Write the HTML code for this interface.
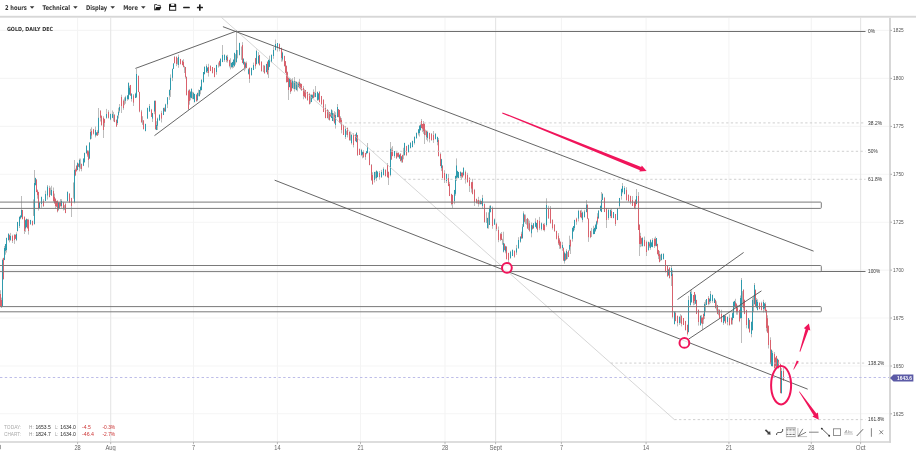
<!DOCTYPE html>
<html><head><meta charset="utf-8"><title>Gold chart</title>
<style>
html,body{margin:0;padding:0;background:#fff;width:916px;height:451px;overflow:hidden}
svg{position:absolute;left:0;top:0;display:block}
text{font-family:"Liberation Sans",Arial,sans-serif}
text.dv{font-family:"DejaVu Sans",sans-serif}
</style></head><body>
<svg width="916" height="451" viewBox="0 0 916 451">
<g stroke="#f4f4f4" stroke-width="1.1">
<line x1="0" y1="30.4" x2="889" y2="30.4" stroke="#f5f5f5"/>
<line x1="0" y1="78.4" x2="889" y2="78.4" stroke="#f5f5f5"/>
<line x1="0" y1="126.4" x2="889" y2="126.4" stroke="#f5f5f5"/>
<line x1="0" y1="174.3" x2="889" y2="174.3" stroke="#f5f5f5"/>
<line x1="0" y1="222.2" x2="889" y2="222.2" stroke="#f5f5f5"/>
<line x1="0" y1="270.1" x2="889" y2="270.1" stroke="#f5f5f5"/>
<line x1="0" y1="318.0" x2="889" y2="318.0" stroke="#f5f5f5"/>
<line x1="0" y1="366.0" x2="889" y2="366.0" stroke="#f5f5f5"/>
<line x1="0" y1="413.8" x2="889" y2="413.8" stroke="#f5f5f5"/>
<line x1="77.6" y1="17.7" x2="77.6" y2="442"/>
<line x1="110.7" y1="17.7" x2="110.7" y2="442" stroke="#e5e5e5"/>
<line x1="193.5" y1="17.7" x2="193.5" y2="442"/>
<line x1="277.4" y1="17.7" x2="277.4" y2="442"/>
<line x1="360.5" y1="17.7" x2="360.5" y2="442"/>
<line x1="445" y1="17.7" x2="445" y2="442"/>
<line x1="495.6" y1="17.7" x2="495.6" y2="442" stroke="#e5e5e5"/>
<line x1="561.4" y1="17.7" x2="561.4" y2="442"/>
<line x1="646.1" y1="17.7" x2="646.1" y2="442"/>
<line x1="728.9" y1="17.7" x2="728.9" y2="442"/>
<line x1="811.3" y1="17.7" x2="811.3" y2="442"/>
<line x1="860.6" y1="17.7" x2="860.6" y2="442" stroke="#e5e5e5"/>
</g>
<g stroke="#a0a0a0" stroke-width="0.7">
<line x1="0.5" y1="290.2" x2="0.5" y2="306.1"/>
<line x1="1.5" y1="297.6" x2="1.5" y2="308.0"/>
<line x1="2.5" y1="258.6" x2="2.5" y2="306.9"/>
<line x1="3.5" y1="257.7" x2="3.5" y2="279.4"/>
<line x1="4.5" y1="246.0" x2="4.5" y2="260.2"/>
<line x1="5.5" y1="243.9" x2="5.5" y2="254.7"/>
<line x1="6.5" y1="237.6" x2="6.5" y2="252.6"/>
<line x1="8.5" y1="233.0" x2="8.5" y2="240.7"/>
<line x1="9.5" y1="234.6" x2="9.5" y2="242.4"/>
<line x1="10.5" y1="232.9" x2="10.5" y2="240.9"/>
<line x1="12.5" y1="234.7" x2="12.5" y2="243.0"/>
<line x1="14.5" y1="234.0" x2="14.5" y2="243.9"/>
<line x1="15.5" y1="234.5" x2="15.5" y2="238.9"/>
<line x1="16.5" y1="232.3" x2="16.5" y2="241.1"/>
<line x1="17.5" y1="221.8" x2="17.5" y2="231.5"/>
<line x1="19.5" y1="216.3" x2="19.5" y2="228.0"/>
<line x1="20.5" y1="215.5" x2="20.5" y2="219.3"/>
<line x1="21.5" y1="196.0" x2="21.5" y2="217.7"/>
<line x1="22.5" y1="209.9" x2="22.5" y2="219.5"/>
<line x1="24.5" y1="216.2" x2="24.5" y2="234.0"/>
<line x1="25.5" y1="219.6" x2="25.5" y2="231.9"/>
<line x1="26.5" y1="218.4" x2="26.5" y2="227.7"/>
<line x1="27.5" y1="219.0" x2="27.5" y2="228.4"/>
<line x1="28.5" y1="218.8" x2="28.5" y2="234.6"/>
<line x1="30.5" y1="219.8" x2="30.5" y2="225.0"/>
<line x1="32.5" y1="220.5" x2="32.5" y2="225.8"/>
<line x1="33.5" y1="199.4" x2="33.5" y2="216.0"/>
<line x1="34.5" y1="170.0" x2="34.5" y2="224.7"/>
<line x1="35.5" y1="177.7" x2="35.5" y2="185.5"/>
<line x1="36.5" y1="179.4" x2="36.5" y2="192.2"/>
<line x1="37.5" y1="189.5" x2="37.5" y2="198.7"/>
<line x1="38.5" y1="191.8" x2="38.5" y2="210.6"/>
<line x1="39.5" y1="202.1" x2="39.5" y2="208.1"/>
<line x1="41.5" y1="196.5" x2="41.5" y2="207.8"/>
<line x1="43.5" y1="199.3" x2="43.5" y2="206.9"/>
<line x1="45.5" y1="190.7" x2="45.5" y2="201.0"/>
<line x1="47.5" y1="185.0" x2="47.5" y2="199.6"/>
<line x1="49.5" y1="185.8" x2="49.5" y2="197.4"/>
<line x1="50.5" y1="187.5" x2="50.5" y2="194.9"/>
<line x1="51.5" y1="185.8" x2="51.5" y2="195.8"/>
<line x1="53.5" y1="187.5" x2="53.5" y2="201.9"/>
<line x1="54.5" y1="193.6" x2="54.5" y2="203.7"/>
<line x1="55.5" y1="198.2" x2="55.5" y2="208.6"/>
<line x1="56.5" y1="200.8" x2="56.5" y2="206.9"/>
<line x1="57.5" y1="200.1" x2="57.5" y2="212.4"/>
<line x1="58.5" y1="202.0" x2="58.5" y2="210.7"/>
<line x1="59.5" y1="202.0" x2="59.5" y2="208.7"/>
<line x1="60.5" y1="199.1" x2="60.5" y2="206.3"/>
<line x1="61.5" y1="199.2" x2="61.5" y2="207.8"/>
<line x1="63.5" y1="201.8" x2="63.5" y2="210.5"/>
<line x1="64.5" y1="205.2" x2="64.5" y2="210.0"/>
<line x1="65.5" y1="202.6" x2="65.5" y2="213.2"/>
<line x1="67.5" y1="191.3" x2="67.5" y2="201.7"/>
<line x1="69.5" y1="193.2" x2="69.5" y2="202.6"/>
<line x1="71.5" y1="197.8" x2="71.5" y2="217.0"/>
<line x1="73.5" y1="182.4" x2="73.5" y2="198.7"/>
<line x1="74.5" y1="160.0" x2="74.5" y2="203.4"/>
<line x1="75.5" y1="168.6" x2="75.5" y2="176.1"/>
<line x1="76.5" y1="165.5" x2="76.5" y2="171.8"/>
<line x1="77.5" y1="162.3" x2="77.5" y2="170.3"/>
<line x1="78.5" y1="163.4" x2="78.5" y2="167.0"/>
<line x1="79.5" y1="158.6" x2="79.5" y2="171.4"/>
<line x1="80.5" y1="158.6" x2="80.5" y2="169.1"/>
<line x1="81.5" y1="163.6" x2="81.5" y2="171.3"/>
<line x1="83.5" y1="158.4" x2="83.5" y2="166.1"/>
<line x1="84.5" y1="152.6" x2="84.5" y2="162.9"/>
<line x1="86.5" y1="145.0" x2="86.5" y2="154.0"/>
<line x1="87.5" y1="150.6" x2="87.5" y2="156.9"/>
<line x1="88.5" y1="150.4" x2="88.5" y2="167.5"/>
<line x1="89.5" y1="142.2" x2="89.5" y2="158.7"/>
<line x1="90.5" y1="128.9" x2="90.5" y2="139.8"/>
<line x1="91.5" y1="127.3" x2="91.5" y2="138.8"/>
<line x1="93.5" y1="128.9" x2="93.5" y2="134.6"/>
<line x1="95.5" y1="126.5" x2="95.5" y2="137.4"/>
<line x1="96.5" y1="132.2" x2="96.5" y2="135.7"/>
<line x1="97.5" y1="130.2" x2="97.5" y2="136.0"/>
<line x1="98.5" y1="108.0" x2="98.5" y2="134.8"/>
<line x1="100.5" y1="110.3" x2="100.5" y2="121.5"/>
<line x1="101.5" y1="115.3" x2="101.5" y2="125.8"/>
<line x1="103.5" y1="116.2" x2="103.5" y2="138.0"/>
<line x1="104.5" y1="118.7" x2="104.5" y2="126.9"/>
<line x1="106.5" y1="108.9" x2="106.5" y2="118.7"/>
<line x1="108.5" y1="110.2" x2="108.5" y2="118.5"/>
<line x1="110.5" y1="113.6" x2="110.5" y2="120.2"/>
<line x1="112.5" y1="110.4" x2="112.5" y2="118.1"/>
<line x1="113.5" y1="111.9" x2="113.5" y2="121.4"/>
<line x1="114.5" y1="114.0" x2="114.5" y2="122.2"/>
<line x1="116.5" y1="119.3" x2="116.5" y2="126.7"/>
<line x1="117.5" y1="115.2" x2="117.5" y2="124.9"/>
<line x1="118.5" y1="107.8" x2="118.5" y2="118.5"/>
<line x1="119.5" y1="104.0" x2="119.5" y2="112.6"/>
<line x1="121.5" y1="94.7" x2="121.5" y2="113.0"/>
<line x1="123.5" y1="99.5" x2="123.5" y2="109.8"/>
<line x1="124.5" y1="97.4" x2="124.5" y2="105.2"/>
<line x1="125.5" y1="95.8" x2="125.5" y2="103.7"/>
<line x1="127.5" y1="95.1" x2="127.5" y2="100.7"/>
<line x1="128.5" y1="82.3" x2="128.5" y2="99.9"/>
<line x1="129.5" y1="85.7" x2="129.5" y2="95.1"/>
<line x1="130.5" y1="84.9" x2="130.5" y2="95.9"/>
<line x1="131.5" y1="93.4" x2="131.5" y2="101.6"/>
<line x1="133.5" y1="94.1" x2="133.5" y2="106.0"/>
<line x1="135.5" y1="92.7" x2="135.5" y2="98.1"/>
<line x1="136.5" y1="69.0" x2="136.5" y2="97.7"/>
<line x1="138.5" y1="75.4" x2="138.5" y2="92.2"/>
<line x1="139.5" y1="91.8" x2="139.5" y2="112.3"/>
<line x1="141.5" y1="109.9" x2="141.5" y2="122.9"/>
<line x1="142.5" y1="116.2" x2="142.5" y2="124.6"/>
<line x1="143.5" y1="120.3" x2="143.5" y2="129.6"/>
<line x1="145.5" y1="123.6" x2="145.5" y2="131.4"/>
<line x1="147.5" y1="107.6" x2="147.5" y2="118.6"/>
<line x1="149.5" y1="104.0" x2="149.5" y2="111.7"/>
<line x1="151.5" y1="108.9" x2="151.5" y2="117.0"/>
<line x1="152.5" y1="112.9" x2="152.5" y2="122.0"/>
<line x1="154.5" y1="100.7" x2="154.5" y2="114.2"/>
<line x1="155.5" y1="100.7" x2="155.5" y2="129.8"/>
<line x1="156.5" y1="121.2" x2="156.5" y2="130.1"/>
<line x1="157.5" y1="117.6" x2="157.5" y2="130.0"/>
<line x1="159.5" y1="114.0" x2="159.5" y2="120.6"/>
<line x1="161.5" y1="110.8" x2="161.5" y2="122.5"/>
<line x1="163.5" y1="107.7" x2="163.5" y2="115.1"/>
<line x1="164.5" y1="107.5" x2="164.5" y2="111.5"/>
<line x1="165.5" y1="103.7" x2="165.5" y2="111.7"/>
<line x1="167.5" y1="97.2" x2="167.5" y2="108.1"/>
<line x1="169.5" y1="89.4" x2="169.5" y2="99.9"/>
<line x1="170.5" y1="74.4" x2="170.5" y2="97.0"/>
<line x1="172.5" y1="68.6" x2="172.5" y2="81.1"/>
<line x1="173.5" y1="63.3" x2="173.5" y2="68.9"/>
<line x1="174.5" y1="56.0" x2="174.5" y2="63.6"/>
<line x1="176.5" y1="56.3" x2="176.5" y2="66.2"/>
<line x1="177.5" y1="57.9" x2="177.5" y2="64.5"/>
<line x1="178.5" y1="54.6" x2="178.5" y2="67.8"/>
<line x1="180.5" y1="58.9" x2="180.5" y2="64.6"/>
<line x1="182.5" y1="60.1" x2="182.5" y2="65.4"/>
<line x1="183.5" y1="59.2" x2="183.5" y2="67.4"/>
<line x1="184.5" y1="65.9" x2="184.5" y2="73.0"/>
<line x1="185.5" y1="67.0" x2="185.5" y2="78.6"/>
<line x1="186.5" y1="76.4" x2="186.5" y2="95.6"/>
<line x1="188.5" y1="89.8" x2="188.5" y2="110.0"/>
<line x1="189.5" y1="89.1" x2="189.5" y2="104.7"/>
<line x1="190.5" y1="91.1" x2="190.5" y2="100.3"/>
<line x1="191.5" y1="88.2" x2="191.5" y2="98.3"/>
<line x1="192.5" y1="91.7" x2="192.5" y2="99.2"/>
<line x1="193.5" y1="92.1" x2="193.5" y2="99.4"/>
<line x1="194.5" y1="93.8" x2="194.5" y2="102.6"/>
<line x1="196.5" y1="94.0" x2="196.5" y2="101.8"/>
<line x1="197.5" y1="92.6" x2="197.5" y2="101.3"/>
<line x1="198.5" y1="89.6" x2="198.5" y2="96.3"/>
<line x1="199.5" y1="90.0" x2="199.5" y2="96.6"/>
<line x1="200.5" y1="86.2" x2="200.5" y2="94.3"/>
<line x1="201.5" y1="79.1" x2="201.5" y2="90.5"/>
<line x1="203.5" y1="72.0" x2="203.5" y2="82.8"/>
<line x1="204.5" y1="66.2" x2="204.5" y2="74.6"/>
<line x1="206.5" y1="64.3" x2="206.5" y2="73.0"/>
<line x1="207.5" y1="67.2" x2="207.5" y2="73.0"/>
<line x1="208.5" y1="63.8" x2="208.5" y2="76.6"/>
<line x1="210.5" y1="65.2" x2="210.5" y2="71.2"/>
<line x1="212.5" y1="67.0" x2="212.5" y2="73.5"/>
<line x1="214.5" y1="67.8" x2="214.5" y2="77.3"/>
<line x1="216.5" y1="64.7" x2="216.5" y2="74.7"/>
<line x1="218.5" y1="62.4" x2="218.5" y2="67.6"/>
<line x1="219.5" y1="60.8" x2="219.5" y2="66.5"/>
<line x1="220.5" y1="58.1" x2="220.5" y2="66.4"/>
<line x1="222.5" y1="45.0" x2="222.5" y2="62.2"/>
<line x1="224.5" y1="54.2" x2="224.5" y2="61.8"/>
<line x1="226.5" y1="55.2" x2="226.5" y2="62.3"/>
<line x1="227.5" y1="54.8" x2="227.5" y2="62.6"/>
<line x1="229.5" y1="59.7" x2="229.5" y2="67.4"/>
<line x1="230.5" y1="58.2" x2="230.5" y2="69.4"/>
<line x1="231.5" y1="62.6" x2="231.5" y2="67.8"/>
<line x1="232.5" y1="61.8" x2="232.5" y2="68.5"/>
<line x1="233.5" y1="59.3" x2="233.5" y2="67.9"/>
<line x1="234.5" y1="52.6" x2="234.5" y2="66.9"/>
<line x1="235.5" y1="54.1" x2="235.5" y2="64.7"/>
<line x1="236.5" y1="31.3" x2="236.5" y2="62.7"/>
<line x1="237.5" y1="50.1" x2="237.5" y2="58.4"/>
<line x1="239.5" y1="42.7" x2="239.5" y2="55.5"/>
<line x1="241.5" y1="46.4" x2="241.5" y2="59.9"/>
<line x1="242.5" y1="42.1" x2="242.5" y2="63.2"/>
<line x1="243.5" y1="58.2" x2="243.5" y2="64.7"/>
<line x1="244.5" y1="61.5" x2="244.5" y2="71.3"/>
<line x1="245.5" y1="61.9" x2="245.5" y2="69.4"/>
<line x1="246.5" y1="61.4" x2="246.5" y2="68.2"/>
<line x1="248.5" y1="68.4" x2="248.5" y2="74.6"/>
<line x1="249.5" y1="67.4" x2="249.5" y2="82.9"/>
<line x1="251.5" y1="67.6" x2="251.5" y2="75.8"/>
<line x1="253.5" y1="62.6" x2="253.5" y2="70.1"/>
<line x1="255.5" y1="57.9" x2="255.5" y2="68.8"/>
<line x1="256.5" y1="49.7" x2="256.5" y2="64.5"/>
<line x1="258.5" y1="52.1" x2="258.5" y2="64.2"/>
<line x1="259.5" y1="54.9" x2="259.5" y2="65.7"/>
<line x1="261.5" y1="61.0" x2="261.5" y2="71.7"/>
<line x1="263.5" y1="64.9" x2="263.5" y2="72.2"/>
<line x1="264.5" y1="65.2" x2="264.5" y2="73.9"/>
<line x1="266.5" y1="63.8" x2="266.5" y2="72.5"/>
<line x1="267.5" y1="61.1" x2="267.5" y2="74.8"/>
<line x1="268.5" y1="59.9" x2="268.5" y2="78.0"/>
<line x1="269.5" y1="55.7" x2="269.5" y2="67.2"/>
<line x1="271.5" y1="54.3" x2="271.5" y2="62.4"/>
<line x1="273.5" y1="46.8" x2="273.5" y2="58.8"/>
<line x1="275.5" y1="39.6" x2="275.5" y2="50.5"/>
<line x1="277.5" y1="43.0" x2="277.5" y2="51.6"/>
<line x1="279.5" y1="43.5" x2="279.5" y2="51.3"/>
<line x1="281.5" y1="47.6" x2="281.5" y2="61.7"/>
<line x1="282.5" y1="51.6" x2="282.5" y2="61.4"/>
<line x1="284.5" y1="55.7" x2="284.5" y2="66.6"/>
<line x1="285.5" y1="61.1" x2="285.5" y2="72.9"/>
<line x1="286.5" y1="65.4" x2="286.5" y2="82.8"/>
<line x1="287.5" y1="71.6" x2="287.5" y2="82.2"/>
<line x1="288.5" y1="77.5" x2="288.5" y2="100.0"/>
<line x1="289.5" y1="78.0" x2="289.5" y2="87.4"/>
<line x1="290.5" y1="78.4" x2="290.5" y2="93.9"/>
<line x1="291.5" y1="79.6" x2="291.5" y2="91.3"/>
<line x1="292.5" y1="78.2" x2="292.5" y2="88.6"/>
<line x1="293.5" y1="81.8" x2="293.5" y2="89.2"/>
<line x1="294.5" y1="77.0" x2="294.5" y2="91.6"/>
<line x1="295.5" y1="81.2" x2="295.5" y2="89.4"/>
<line x1="296.5" y1="81.4" x2="296.5" y2="90.5"/>
<line x1="297.5" y1="82.7" x2="297.5" y2="91.4"/>
<line x1="298.5" y1="81.7" x2="298.5" y2="87.3"/>
<line x1="299.5" y1="78.9" x2="299.5" y2="88.6"/>
<line x1="300.5" y1="83.0" x2="300.5" y2="89.5"/>
<line x1="301.5" y1="83.7" x2="301.5" y2="91.0"/>
<line x1="303.5" y1="85.9" x2="303.5" y2="99.3"/>
<line x1="304.5" y1="89.2" x2="304.5" y2="97.3"/>
<line x1="305.5" y1="90.0" x2="305.5" y2="98.8"/>
<line x1="307.5" y1="91.7" x2="307.5" y2="100.8"/>
<line x1="309.5" y1="92.8" x2="309.5" y2="104.6"/>
<line x1="310.5" y1="94.5" x2="310.5" y2="103.6"/>
<line x1="311.5" y1="94.2" x2="311.5" y2="102.1"/>
<line x1="312.5" y1="94.4" x2="312.5" y2="98.7"/>
<line x1="313.5" y1="89.4" x2="313.5" y2="98.4"/>
<line x1="314.5" y1="91.8" x2="314.5" y2="97.3"/>
<line x1="315.5" y1="86.0" x2="315.5" y2="97.2"/>
<line x1="317.5" y1="91.4" x2="317.5" y2="101.0"/>
<line x1="318.5" y1="93.1" x2="318.5" y2="100.4"/>
<line x1="319.5" y1="90.9" x2="319.5" y2="102.5"/>
<line x1="321.5" y1="95.9" x2="321.5" y2="104.9"/>
<line x1="323.5" y1="99.1" x2="323.5" y2="112.1"/>
<line x1="325.5" y1="104.2" x2="325.5" y2="118.3"/>
<line x1="327.5" y1="109.0" x2="327.5" y2="118.4"/>
<line x1="328.5" y1="110.2" x2="328.5" y2="119.8"/>
<line x1="329.5" y1="112.0" x2="329.5" y2="120.7"/>
<line x1="330.5" y1="112.8" x2="330.5" y2="116.7"/>
<line x1="331.5" y1="109.0" x2="331.5" y2="118.1"/>
<line x1="332.5" y1="110.4" x2="332.5" y2="121.0"/>
<line x1="333.5" y1="113.0" x2="333.5" y2="121.4"/>
<line x1="334.5" y1="111.2" x2="334.5" y2="123.6"/>
<line x1="335.5" y1="112.3" x2="335.5" y2="128.6"/>
<line x1="337.5" y1="104.0" x2="337.5" y2="117.3"/>
<line x1="338.5" y1="109.0" x2="338.5" y2="117.4"/>
<line x1="339.5" y1="109.9" x2="339.5" y2="123.1"/>
<line x1="340.5" y1="116.2" x2="340.5" y2="124.3"/>
<line x1="341.5" y1="118.1" x2="341.5" y2="133.4"/>
<line x1="343.5" y1="124.7" x2="343.5" y2="135.0"/>
<line x1="345.5" y1="125.9" x2="345.5" y2="139.0"/>
<line x1="346.5" y1="130.7" x2="346.5" y2="134.9"/>
<line x1="347.5" y1="127.4" x2="347.5" y2="137.4"/>
<line x1="349.5" y1="131.3" x2="349.5" y2="140.8"/>
<line x1="350.5" y1="131.8" x2="350.5" y2="140.7"/>
<line x1="351.5" y1="134.1" x2="351.5" y2="144.5"/>
<line x1="353.5" y1="133.3" x2="353.5" y2="147.4"/>
<line x1="355.5" y1="134.0" x2="355.5" y2="141.4"/>
<line x1="356.5" y1="132.0" x2="356.5" y2="142.4"/>
<line x1="357.5" y1="134.9" x2="357.5" y2="156.0"/>
<line x1="359.5" y1="148.5" x2="359.5" y2="155.0"/>
<line x1="361.5" y1="148.9" x2="361.5" y2="156.2"/>
<line x1="362.5" y1="151.6" x2="362.5" y2="158.3"/>
<line x1="363.5" y1="150.2" x2="363.5" y2="157.9"/>
<line x1="365.5" y1="152.9" x2="365.5" y2="159.9"/>
<line x1="366.5" y1="150.9" x2="366.5" y2="154.4"/>
<line x1="367.5" y1="143.0" x2="367.5" y2="153.4"/>
<line x1="369.5" y1="151.4" x2="369.5" y2="165.3"/>
<line x1="371.5" y1="164.0" x2="371.5" y2="180.9"/>
<line x1="372.5" y1="172.3" x2="372.5" y2="185.0"/>
<line x1="374.5" y1="171.8" x2="374.5" y2="182.5"/>
<line x1="375.5" y1="171.8" x2="375.5" y2="178.7"/>
<line x1="376.5" y1="170.2" x2="376.5" y2="181.1"/>
<line x1="377.5" y1="171.1" x2="377.5" y2="177.3"/>
<line x1="379.5" y1="171.0" x2="379.5" y2="179.7"/>
<line x1="381.5" y1="169.9" x2="381.5" y2="178.0"/>
<line x1="383.5" y1="167.4" x2="383.5" y2="175.6"/>
<line x1="385.5" y1="169.2" x2="385.5" y2="176.6"/>
<line x1="387.5" y1="163.0" x2="387.5" y2="177.7"/>
<line x1="388.5" y1="171.5" x2="388.5" y2="185.0"/>
<line x1="390.5" y1="142.0" x2="390.5" y2="176.3"/>
<line x1="391.5" y1="147.6" x2="391.5" y2="159.8"/>
<line x1="392.5" y1="146.1" x2="392.5" y2="156.3"/>
<line x1="394.5" y1="150.9" x2="394.5" y2="157.8"/>
<line x1="396.5" y1="151.5" x2="396.5" y2="159.0"/>
<line x1="397.5" y1="152.6" x2="397.5" y2="157.3"/>
<line x1="398.5" y1="152.3" x2="398.5" y2="157.5"/>
<line x1="399.5" y1="154.7" x2="399.5" y2="159.0"/>
<line x1="400.5" y1="153.0" x2="400.5" y2="161.4"/>
<line x1="401.5" y1="156.0" x2="401.5" y2="162.6"/>
<line x1="402.5" y1="154.7" x2="402.5" y2="163.0"/>
<line x1="403.5" y1="147.8" x2="403.5" y2="159.3"/>
<line x1="404.5" y1="142.7" x2="404.5" y2="155.8"/>
<line x1="406.5" y1="145.8" x2="406.5" y2="156.1"/>
<line x1="408.5" y1="144.5" x2="408.5" y2="152.8"/>
<line x1="410.5" y1="142.0" x2="410.5" y2="148.5"/>
<line x1="412.5" y1="140.6" x2="412.5" y2="147.4"/>
<line x1="414.5" y1="136.3" x2="414.5" y2="144.5"/>
<line x1="416.5" y1="132.4" x2="416.5" y2="138.9"/>
<line x1="418.5" y1="129.1" x2="418.5" y2="135.4"/>
<line x1="419.5" y1="125.0" x2="419.5" y2="136.6"/>
<line x1="420.5" y1="123.8" x2="420.5" y2="130.6"/>
<line x1="421.5" y1="119.0" x2="421.5" y2="128.2"/>
<line x1="422.5" y1="124.0" x2="422.5" y2="132.1"/>
<line x1="423.5" y1="121.0" x2="423.5" y2="133.9"/>
<line x1="424.5" y1="123.5" x2="424.5" y2="144.0"/>
<line x1="425.5" y1="129.6" x2="425.5" y2="135.2"/>
<line x1="426.5" y1="130.4" x2="426.5" y2="139.8"/>
<line x1="427.5" y1="130.7" x2="427.5" y2="141.4"/>
<line x1="429.5" y1="132.7" x2="429.5" y2="142.5"/>
<line x1="431.5" y1="133.0" x2="431.5" y2="140.8"/>
<line x1="433.5" y1="131.0" x2="433.5" y2="142.9"/>
<line x1="435.5" y1="133.0" x2="435.5" y2="139.5"/>
<line x1="437.5" y1="136.6" x2="437.5" y2="145.3"/>
<line x1="438.5" y1="138.0" x2="438.5" y2="156.5"/>
<line x1="440.5" y1="152.5" x2="440.5" y2="166.2"/>
<line x1="441.5" y1="158.8" x2="441.5" y2="171.1"/>
<line x1="442.5" y1="165.0" x2="442.5" y2="178.4"/>
<line x1="444.5" y1="170.2" x2="444.5" y2="183.0"/>
<line x1="446.5" y1="173.6" x2="446.5" y2="183.0"/>
<line x1="448.5" y1="173.9" x2="448.5" y2="186.2"/>
<line x1="449.5" y1="181.9" x2="449.5" y2="196.1"/>
<line x1="451.5" y1="193.7" x2="451.5" y2="205.4"/>
<line x1="452.5" y1="194.8" x2="452.5" y2="208.0"/>
<line x1="454.5" y1="189.9" x2="454.5" y2="204.2"/>
<line x1="455.5" y1="175.6" x2="455.5" y2="195.7"/>
<line x1="456.5" y1="158.4" x2="456.5" y2="181.0"/>
<line x1="457.5" y1="170.7" x2="457.5" y2="178.4"/>
<line x1="458.5" y1="171.9" x2="458.5" y2="178.3"/>
<line x1="460.5" y1="171.2" x2="460.5" y2="177.8"/>
<line x1="461.5" y1="172.4" x2="461.5" y2="180.0"/>
<line x1="462.5" y1="172.0" x2="462.5" y2="177.9"/>
<line x1="463.5" y1="167.1" x2="463.5" y2="176.2"/>
<line x1="465.5" y1="170.5" x2="465.5" y2="183.6"/>
<line x1="467.5" y1="172.8" x2="467.5" y2="182.7"/>
<line x1="469.5" y1="177.2" x2="469.5" y2="192.0"/>
<line x1="471.5" y1="181.9" x2="471.5" y2="192.6"/>
<line x1="472.5" y1="178.8" x2="472.5" y2="194.4"/>
<line x1="474.5" y1="188.9" x2="474.5" y2="206.0"/>
<line x1="476.5" y1="198.6" x2="476.5" y2="203.7"/>
<line x1="477.5" y1="200.2" x2="477.5" y2="203.7"/>
<line x1="478.5" y1="196.8" x2="478.5" y2="206.7"/>
<line x1="479.5" y1="200.4" x2="479.5" y2="204.3"/>
<line x1="480.5" y1="199.5" x2="480.5" y2="204.5"/>
<line x1="481.5" y1="200.8" x2="481.5" y2="204.3"/>
<line x1="482.5" y1="194.9" x2="482.5" y2="209.0"/>
<line x1="484.5" y1="203.4" x2="484.5" y2="222.8"/>
<line x1="486.5" y1="212.2" x2="486.5" y2="223.0"/>
<line x1="487.5" y1="217.7" x2="487.5" y2="228.6"/>
<line x1="488.5" y1="212.3" x2="488.5" y2="228.7"/>
<line x1="489.5" y1="205.7" x2="489.5" y2="225.0"/>
<line x1="490.5" y1="205.0" x2="490.5" y2="212.6"/>
<line x1="492.5" y1="206.5" x2="492.5" y2="228.8"/>
<line x1="494.5" y1="218.5" x2="494.5" y2="224.8"/>
<line x1="496.5" y1="222.6" x2="496.5" y2="231.1"/>
<line x1="498.5" y1="226.5" x2="498.5" y2="242.2"/>
<line x1="500.5" y1="233.1" x2="500.5" y2="241.1"/>
<line x1="501.5" y1="232.0" x2="501.5" y2="240.1"/>
<line x1="502.5" y1="238.9" x2="502.5" y2="244.6"/>
<line x1="503.5" y1="231.7" x2="503.5" y2="252.5"/>
<line x1="504.5" y1="243.2" x2="504.5" y2="250.3"/>
<line x1="505.5" y1="245.7" x2="505.5" y2="253.3"/>
<line x1="506.5" y1="246.3" x2="506.5" y2="259.6"/>
<line x1="508.5" y1="252.7" x2="508.5" y2="263.0"/>
<line x1="510.5" y1="250.7" x2="510.5" y2="258.9"/>
<line x1="512.5" y1="249.4" x2="512.5" y2="256.1"/>
<line x1="514.5" y1="250.5" x2="514.5" y2="257.7"/>
<line x1="516.5" y1="244.9" x2="516.5" y2="254.9"/>
<line x1="518.5" y1="237.2" x2="518.5" y2="248.7"/>
<line x1="520.5" y1="236.2" x2="520.5" y2="242.7"/>
<line x1="521.5" y1="231.7" x2="521.5" y2="238.7"/>
<line x1="522.5" y1="224.1" x2="522.5" y2="238.4"/>
<line x1="523.5" y1="211.3" x2="523.5" y2="226.8"/>
<line x1="524.5" y1="214.1" x2="524.5" y2="222.4"/>
<line x1="525.5" y1="214.5" x2="525.5" y2="224.0"/>
<line x1="526.5" y1="219.0" x2="526.5" y2="224.7"/>
<line x1="527.5" y1="217.9" x2="527.5" y2="228.9"/>
<line x1="528.5" y1="219.1" x2="528.5" y2="230.0"/>
<line x1="529.5" y1="220.6" x2="529.5" y2="231.7"/>
<line x1="531.5" y1="222.5" x2="531.5" y2="237.3"/>
<line x1="532.5" y1="224.9" x2="532.5" y2="229.6"/>
<line x1="533.5" y1="223.1" x2="533.5" y2="228.6"/>
<line x1="535.5" y1="218.3" x2="535.5" y2="227.2"/>
<line x1="536.5" y1="222.8" x2="536.5" y2="229.1"/>
<line x1="537.5" y1="219.8" x2="537.5" y2="232.3"/>
<line x1="539.5" y1="216.9" x2="539.5" y2="230.1"/>
<line x1="541.5" y1="222.4" x2="541.5" y2="230.5"/>
<line x1="543.5" y1="223.5" x2="543.5" y2="230.4"/>
<line x1="544.5" y1="223.1" x2="544.5" y2="231.5"/>
<line x1="546.5" y1="198.3" x2="546.5" y2="226.6"/>
<line x1="548.5" y1="205.8" x2="548.5" y2="218.8"/>
<line x1="550.5" y1="206.0" x2="550.5" y2="223.8"/>
<line x1="552.5" y1="219.2" x2="552.5" y2="229.6"/>
<line x1="554.5" y1="224.0" x2="554.5" y2="231.9"/>
<line x1="556.5" y1="230.7" x2="556.5" y2="239.5"/>
<line x1="558.5" y1="233.1" x2="558.5" y2="245.0"/>
<line x1="559.5" y1="238.1" x2="559.5" y2="248.9"/>
<line x1="560.5" y1="241.4" x2="560.5" y2="249.2"/>
<line x1="562.5" y1="241.9" x2="562.5" y2="250.8"/>
<line x1="563.5" y1="247.4" x2="563.5" y2="260.8"/>
<line x1="564.5" y1="251.5" x2="564.5" y2="263.6"/>
<line x1="565.5" y1="253.4" x2="565.5" y2="260.5"/>
<line x1="566.5" y1="249.2" x2="566.5" y2="260.0"/>
<line x1="567.5" y1="252.0" x2="567.5" y2="259.1"/>
<line x1="568.5" y1="250.0" x2="568.5" y2="257.1"/>
<line x1="569.5" y1="235.7" x2="569.5" y2="251.0"/>
<line x1="570.5" y1="239.5" x2="570.5" y2="254.0"/>
<line x1="572.5" y1="227.4" x2="572.5" y2="241.6"/>
<line x1="573.5" y1="226.1" x2="573.5" y2="231.5"/>
<line x1="574.5" y1="219.7" x2="574.5" y2="230.2"/>
<line x1="576.5" y1="217.7" x2="576.5" y2="224.8"/>
<line x1="578.5" y1="209.8" x2="578.5" y2="221.4"/>
<line x1="580.5" y1="210.1" x2="580.5" y2="217.5"/>
<line x1="581.5" y1="209.7" x2="581.5" y2="218.4"/>
<line x1="582.5" y1="211.6" x2="582.5" y2="222.3"/>
<line x1="584.5" y1="209.8" x2="584.5" y2="217.7"/>
<line x1="586.5" y1="200.0" x2="586.5" y2="212.4"/>
<line x1="587.5" y1="204.5" x2="587.5" y2="219.2"/>
<line x1="588.5" y1="218.5" x2="588.5" y2="241.9"/>
<line x1="590.5" y1="230.8" x2="590.5" y2="238.2"/>
<line x1="591.5" y1="227.9" x2="591.5" y2="237.0"/>
<line x1="593.5" y1="225.8" x2="593.5" y2="234.2"/>
<line x1="594.5" y1="227.6" x2="594.5" y2="234.1"/>
<line x1="595.5" y1="223.9" x2="595.5" y2="231.9"/>
<line x1="596.5" y1="220.7" x2="596.5" y2="229.3"/>
<line x1="597.5" y1="213.2" x2="597.5" y2="224.5"/>
<line x1="598.5" y1="210.2" x2="598.5" y2="218.6"/>
<line x1="600.5" y1="205.4" x2="600.5" y2="211.3"/>
<line x1="601.5" y1="192.0" x2="601.5" y2="212.2"/>
<line x1="602.5" y1="193.2" x2="602.5" y2="200.2"/>
<line x1="604.5" y1="196.9" x2="604.5" y2="212.1"/>
<line x1="606.5" y1="208.0" x2="606.5" y2="228.0"/>
<line x1="608.5" y1="208.7" x2="608.5" y2="219.9"/>
<line x1="610.5" y1="209.3" x2="610.5" y2="217.8"/>
<line x1="611.5" y1="208.5" x2="611.5" y2="218.2"/>
<line x1="613.5" y1="212.0" x2="613.5" y2="218.3"/>
<line x1="615.5" y1="213.9" x2="615.5" y2="226.0"/>
<line x1="617.5" y1="207.9" x2="617.5" y2="220.2"/>
<line x1="619.5" y1="197.9" x2="619.5" y2="207.7"/>
<line x1="621.5" y1="188.5" x2="621.5" y2="199.7"/>
<line x1="622.5" y1="183.0" x2="622.5" y2="193.4"/>
<line x1="624.5" y1="186.2" x2="624.5" y2="194.4"/>
<line x1="626.5" y1="187.2" x2="626.5" y2="200.7"/>
<line x1="628.5" y1="194.3" x2="628.5" y2="201.9"/>
<line x1="630.5" y1="195.7" x2="630.5" y2="204.3"/>
<line x1="632.5" y1="196.1" x2="632.5" y2="206.0"/>
<line x1="634.5" y1="201.7" x2="634.5" y2="209.1"/>
<line x1="635.5" y1="199.2" x2="635.5" y2="209.3"/>
<line x1="636.5" y1="189.0" x2="636.5" y2="204.3"/>
<line x1="638.5" y1="192.1" x2="638.5" y2="230.0"/>
<line x1="639.5" y1="224.1" x2="639.5" y2="256.0"/>
<line x1="640.5" y1="232.8" x2="640.5" y2="247.2"/>
<line x1="641.5" y1="237.8" x2="641.5" y2="246.4"/>
<line x1="642.5" y1="237.1" x2="642.5" y2="246.7"/>
<line x1="644.5" y1="236.5" x2="644.5" y2="246.5"/>
<line x1="646.5" y1="240.6" x2="646.5" y2="256.0"/>
<line x1="648.5" y1="241.5" x2="648.5" y2="250.8"/>
<line x1="649.5" y1="242.1" x2="649.5" y2="247.8"/>
<line x1="650.5" y1="239.2" x2="650.5" y2="249.8"/>
<line x1="651.5" y1="241.8" x2="651.5" y2="246.8"/>
<line x1="652.5" y1="238.2" x2="652.5" y2="247.4"/>
<line x1="654.5" y1="237.8" x2="654.5" y2="247.9"/>
<line x1="655.5" y1="236.6" x2="655.5" y2="246.3"/>
<line x1="656.5" y1="238.0" x2="656.5" y2="246.4"/>
<line x1="657.5" y1="243.7" x2="657.5" y2="254.6"/>
<line x1="658.5" y1="249.9" x2="658.5" y2="259.1"/>
<line x1="659.5" y1="251.0" x2="659.5" y2="262.4"/>
<line x1="660.5" y1="254.6" x2="660.5" y2="261.2"/>
<line x1="661.5" y1="253.5" x2="661.5" y2="260.4"/>
<line x1="663.5" y1="253.2" x2="663.5" y2="259.7"/>
<line x1="665.5" y1="260.0" x2="665.5" y2="272.6"/>
<line x1="667.5" y1="265.6" x2="667.5" y2="277.1"/>
<line x1="668.5" y1="268.9" x2="668.5" y2="275.5"/>
<line x1="669.5" y1="267.0" x2="669.5" y2="278.6"/>
<line x1="671.5" y1="266.0" x2="671.5" y2="286.0"/>
<line x1="672.5" y1="270.0" x2="672.5" y2="318.4"/>
<line x1="674.5" y1="311.1" x2="674.5" y2="324.5"/>
<line x1="675.5" y1="311.4" x2="675.5" y2="321.2"/>
<line x1="677.5" y1="315.5" x2="677.5" y2="326.4"/>
<line x1="679.5" y1="316.1" x2="679.5" y2="324.9"/>
<line x1="680.5" y1="314.2" x2="680.5" y2="323.2"/>
<line x1="681.5" y1="315.1" x2="681.5" y2="326.4"/>
<line x1="683.5" y1="318.0" x2="683.5" y2="325.1"/>
<line x1="685.5" y1="320.8" x2="685.5" y2="330.6"/>
<line x1="687.5" y1="324.5" x2="687.5" y2="335.4"/>
<line x1="688.5" y1="295.9" x2="688.5" y2="332.5"/>
<line x1="690.5" y1="290.0" x2="690.5" y2="305.8"/>
<line x1="691.5" y1="290.2" x2="691.5" y2="302.9"/>
<line x1="693.5" y1="295.0" x2="693.5" y2="305.3"/>
<line x1="694.5" y1="292.0" x2="694.5" y2="304.8"/>
<line x1="695.5" y1="294.1" x2="695.5" y2="304.1"/>
<line x1="696.5" y1="299.8" x2="696.5" y2="314.1"/>
<line x1="698.5" y1="309.3" x2="698.5" y2="325.6"/>
<line x1="700.5" y1="315.1" x2="700.5" y2="325.9"/>
<line x1="701.5" y1="314.9" x2="701.5" y2="323.7"/>
<line x1="702.5" y1="317.0" x2="702.5" y2="330.0"/>
<line x1="703.5" y1="313.8" x2="703.5" y2="323.8"/>
<line x1="704.5" y1="302.2" x2="704.5" y2="319.0"/>
<line x1="705.5" y1="300.1" x2="705.5" y2="311.7"/>
<line x1="706.5" y1="299.0" x2="706.5" y2="305.1"/>
<line x1="708.5" y1="296.1" x2="708.5" y2="305.3"/>
<line x1="709.5" y1="298.3" x2="709.5" y2="304.4"/>
<line x1="710.5" y1="291.0" x2="710.5" y2="303.2"/>
<line x1="712.5" y1="294.5" x2="712.5" y2="302.8"/>
<line x1="714.5" y1="298.0" x2="714.5" y2="303.0"/>
<line x1="715.5" y1="299.5" x2="715.5" y2="308.6"/>
<line x1="716.5" y1="301.3" x2="716.5" y2="310.5"/>
<line x1="717.5" y1="304.9" x2="717.5" y2="314.2"/>
<line x1="718.5" y1="309.2" x2="718.5" y2="315.2"/>
<line x1="719.5" y1="309.3" x2="719.5" y2="318.3"/>
<line x1="721.5" y1="309.8" x2="721.5" y2="322.4"/>
<line x1="723.5" y1="314.8" x2="723.5" y2="324.9"/>
<line x1="724.5" y1="314.9" x2="724.5" y2="321.7"/>
<line x1="725.5" y1="315.2" x2="725.5" y2="323.8"/>
<line x1="727.5" y1="316.4" x2="727.5" y2="325.3"/>
<line x1="729.5" y1="314.3" x2="729.5" y2="325.7"/>
<line x1="731.5" y1="317.2" x2="731.5" y2="324.9"/>
<line x1="732.5" y1="312.4" x2="732.5" y2="324.5"/>
<line x1="733.5" y1="301.5" x2="733.5" y2="318.1"/>
<line x1="734.5" y1="300.7" x2="734.5" y2="308.8"/>
<line x1="735.5" y1="298.8" x2="735.5" y2="307.9"/>
<line x1="736.5" y1="303.1" x2="736.5" y2="314.7"/>
<line x1="737.5" y1="305.2" x2="737.5" y2="314.7"/>
<line x1="739.5" y1="309.6" x2="739.5" y2="322.2"/>
<line x1="740.5" y1="295.5" x2="740.5" y2="318.6"/>
<line x1="741.5" y1="278.0" x2="741.5" y2="343.0"/>
<line x1="742.5" y1="291.1" x2="742.5" y2="306.1"/>
<line x1="743.5" y1="289.1" x2="743.5" y2="310.6"/>
<line x1="744.5" y1="299.5" x2="744.5" y2="314.2"/>
<line x1="746.5" y1="309.8" x2="746.5" y2="328.3"/>
<line x1="748.5" y1="318.0" x2="748.5" y2="329.2"/>
<line x1="749.5" y1="319.6" x2="749.5" y2="332.9"/>
<line x1="751.5" y1="321.4" x2="751.5" y2="337.3"/>
<line x1="752.5" y1="297.5" x2="752.5" y2="330.7"/>
<line x1="753.5" y1="295.9" x2="753.5" y2="312.1"/>
<line x1="754.5" y1="283.0" x2="754.5" y2="304.8"/>
<line x1="755.5" y1="289.3" x2="755.5" y2="306.5"/>
<line x1="756.5" y1="298.1" x2="756.5" y2="308.3"/>
<line x1="757.5" y1="299.3" x2="757.5" y2="310.4"/>
<line x1="759.5" y1="302.2" x2="759.5" y2="309.4"/>
<line x1="761.5" y1="301.7" x2="761.5" y2="310.6"/>
<line x1="763.5" y1="299.8" x2="763.5" y2="312.5"/>
<line x1="764.5" y1="303.0" x2="764.5" y2="310.4"/>
<line x1="765.5" y1="302.3" x2="765.5" y2="312.5"/>
<line x1="766.5" y1="309.6" x2="766.5" y2="331.4"/>
<line x1="767.5" y1="315.3" x2="767.5" y2="333.1"/>
<line x1="768.5" y1="325.3" x2="768.5" y2="348.5"/>
<line x1="770.5" y1="337.3" x2="770.5" y2="364.3"/>
<line x1="771.5" y1="349.2" x2="771.5" y2="366.4"/>
<line x1="772.5" y1="350.8" x2="772.5" y2="366.8"/>
<line x1="774.5" y1="352.1" x2="774.5" y2="368.6"/>
<line x1="775.5" y1="357.1" x2="775.5" y2="369.2"/>
<line x1="776.5" y1="355.8" x2="776.5" y2="367.5"/>
<line x1="777.5" y1="358.3" x2="777.5" y2="367.4"/>
<line x1="778.5" y1="359.5" x2="778.5" y2="368.7"/>
<line x1="780.5" y1="363.6" x2="780.5" y2="393.3"/>
<line x1="781.5" y1="368.0" x2="781.5" y2="393.8"/>
<line x1="783.5" y1="368.0" x2="783.5" y2="380.7"/>
</g>
<g fill="#2f9bad">
<rect x="2" y="260.0" width="1" height="46.0"/>
<rect x="4" y="248.0" width="1" height="12.0"/>
<rect x="5" y="244.1" width="1" height="6.8"/>
<rect x="6" y="238.0" width="1" height="12.0"/>
<rect x="8" y="234.0" width="1" height="6.0"/>
<rect x="10" y="236.0" width="1" height="4.0"/>
<rect x="16" y="234.0" width="1" height="6.0"/>
<rect x="17" y="222.0" width="1" height="9.0"/>
<rect x="19" y="217.0" width="1" height="9.0"/>
<rect x="20" y="215.6" width="1" height="2.8"/>
<rect x="21" y="210.0" width="1" height="7.0"/>
<rect x="25" y="220.2" width="1" height="8.3"/>
<rect x="26" y="219.0" width="1" height="8.0"/>
<rect x="30" y="220.0" width="1" height="4.0"/>
<rect x="34" y="183.0" width="1" height="41.0"/>
<rect x="35" y="178.0" width="1" height="7.0"/>
<rect x="39" y="202.6" width="1" height="5.4"/>
<rect x="41" y="197.0" width="1" height="7.0"/>
<rect x="45" y="194.0" width="1" height="7.0"/>
<rect x="47" y="186.6" width="1" height="8.9"/>
<rect x="51" y="190.0" width="1" height="5.5"/>
<rect x="58" y="202.4" width="1" height="7.1"/>
<rect x="61" y="201.0" width="1" height="5.0"/>
<rect x="67" y="192.0" width="1" height="9.0"/>
<rect x="74" y="170.0" width="1" height="32.0"/>
<rect x="77" y="163.0" width="1" height="7.0"/>
<rect x="79" y="160.0" width="1" height="7.5"/>
<rect x="83" y="158.6" width="1" height="7.1"/>
<rect x="84" y="153.0" width="1" height="9.0"/>
<rect x="86" y="146.0" width="1" height="7.0"/>
<rect x="89" y="142.6" width="1" height="16.0"/>
<rect x="90" y="132.0" width="1" height="7.0"/>
<rect x="95" y="130.0" width="1" height="5.5"/>
<rect x="96" y="132.5" width="1" height="2.4"/>
<rect x="98" y="117.8" width="1" height="15.2"/>
<rect x="106" y="114.0" width="1" height="3.8"/>
<rect x="110" y="114.0" width="1" height="5.5"/>
<rect x="112" y="114.0" width="1" height="3.8"/>
<rect x="117" y="116.0" width="1" height="7.0"/>
<rect x="118" y="111.7" width="1" height="3.6"/>
<rect x="119" y="107.0" width="1" height="3.7"/>
<rect x="125" y="97.3" width="1" height="3.5"/>
<rect x="127" y="95.5" width="1" height="3.5"/>
<rect x="128" y="83.0" width="1" height="16.0"/>
<rect x="129" y="87.8" width="1" height="6.7"/>
<rect x="131" y="93.7" width="1" height="5.3"/>
<rect x="135" y="93.7" width="1" height="4.3"/>
<rect x="136" y="74.0" width="1" height="23.3"/>
<rect x="145" y="124.0" width="1" height="7.0"/>
<rect x="147" y="108.0" width="1" height="10.6"/>
<rect x="149" y="106.0" width="1" height="5.5"/>
<rect x="152" y="113.0" width="1" height="5.6"/>
<rect x="154" y="100.8" width="1" height="10.7"/>
<rect x="156" y="125.0" width="1" height="5.0"/>
<rect x="157" y="118.6" width="1" height="7.1"/>
<rect x="159" y="115.0" width="1" height="5.4"/>
<rect x="163" y="108.0" width="1" height="7.0"/>
<rect x="165" y="104.4" width="1" height="7.1"/>
<rect x="167" y="97.3" width="1" height="7.1"/>
<rect x="169" y="90.0" width="1" height="5.5"/>
<rect x="170" y="77.8" width="1" height="12.2"/>
<rect x="172" y="68.9" width="1" height="8.9"/>
<rect x="173" y="63.5" width="1" height="5.4"/>
<rect x="178" y="57.0" width="1" height="8.0"/>
<rect x="190" y="92.1" width="1" height="5.5"/>
<rect x="191" y="89.0" width="1" height="9.0"/>
<rect x="193" y="93.0" width="1" height="6.0"/>
<rect x="194" y="94.0" width="1" height="8.0"/>
<rect x="197" y="93.0" width="1" height="7.0"/>
<rect x="199" y="90.0" width="1" height="6.0"/>
<rect x="200" y="87.1" width="1" height="3.3"/>
<rect x="201" y="80.0" width="1" height="10.0"/>
<rect x="203" y="72.0" width="1" height="10.0"/>
<rect x="204" y="67.0" width="1" height="7.0"/>
<rect x="206" y="66.0" width="1" height="6.0"/>
<rect x="207" y="67.8" width="1" height="3.2"/>
<rect x="216" y="65.0" width="1" height="7.0"/>
<rect x="220" y="59.0" width="1" height="7.0"/>
<rect x="222" y="55.0" width="1" height="7.0"/>
<rect x="224" y="55.0" width="1" height="5.0"/>
<rect x="226" y="56.0" width="1" height="4.0"/>
<rect x="231" y="63.0" width="1" height="4.0"/>
<rect x="232" y="62.0" width="1" height="5.0"/>
<rect x="233" y="59.8" width="1" height="5.4"/>
<rect x="234" y="53.0" width="1" height="13.0"/>
<rect x="236" y="50.0" width="1" height="12.0"/>
<rect x="239" y="43.0" width="1" height="12.0"/>
<rect x="243" y="58.8" width="1" height="5.4"/>
<rect x="245" y="63.3" width="1" height="4.3"/>
<rect x="248" y="69.3" width="1" height="4.5"/>
<rect x="251" y="68.0" width="1" height="7.0"/>
<rect x="253" y="65.0" width="1" height="5.0"/>
<rect x="256" y="51.0" width="1" height="13.0"/>
<rect x="258" y="55.9" width="1" height="7.4"/>
<rect x="266" y="64.0" width="1" height="8.0"/>
<rect x="268" y="60.0" width="1" height="10.0"/>
<rect x="269" y="59.5" width="1" height="7.3"/>
<rect x="271" y="55.0" width="1" height="7.0"/>
<rect x="273" y="50.0" width="1" height="6.0"/>
<rect x="275" y="44.0" width="1" height="6.0"/>
<rect x="277" y="43.0" width="1" height="5.0"/>
<rect x="282" y="52.6" width="1" height="6.9"/>
<rect x="289" y="78.9" width="1" height="8.1"/>
<rect x="292" y="80.0" width="1" height="8.0"/>
<rect x="294" y="81.0" width="1" height="8.0"/>
<rect x="296" y="82.0" width="1" height="8.0"/>
<rect x="298" y="83.7" width="1" height="3.1"/>
<rect x="311" y="95.0" width="1" height="7.0"/>
<rect x="312" y="95.3" width="1" height="3.0"/>
<rect x="315" y="93.0" width="1" height="4.0"/>
<rect x="317" y="92.0" width="1" height="8.0"/>
<rect x="318" y="93.5" width="1" height="6.1"/>
<rect x="331" y="110.0" width="1" height="8.0"/>
<rect x="332" y="113.0" width="1" height="8.0"/>
<rect x="335" y="115.0" width="1" height="10.0"/>
<rect x="337" y="107.0" width="1" height="10.0"/>
<rect x="345" y="129.0" width="1" height="8.0"/>
<rect x="351" y="135.0" width="1" height="8.0"/>
<rect x="356" y="133.0" width="1" height="9.0"/>
<rect x="361" y="150.0" width="1" height="5.0"/>
<rect x="362" y="152.2" width="1" height="2.4"/>
<rect x="366" y="151.3" width="1" height="2.2"/>
<rect x="367" y="147.0" width="1" height="6.0"/>
<rect x="374" y="172.0" width="1" height="8.0"/>
<rect x="376" y="171.0" width="1" height="7.0"/>
<rect x="377" y="172.0" width="1" height="5.1"/>
<rect x="381" y="172.0" width="1" height="5.0"/>
<rect x="383" y="169.0" width="1" height="6.0"/>
<rect x="390" y="149.0" width="1" height="26.0"/>
<rect x="394" y="151.0" width="1" height="5.0"/>
<rect x="399" y="154.7" width="1" height="3.8"/>
<rect x="401" y="156.5" width="1" height="3.9"/>
<rect x="404" y="143.0" width="1" height="12.0"/>
<rect x="408" y="145.0" width="1" height="7.0"/>
<rect x="410" y="143.0" width="1" height="5.0"/>
<rect x="412" y="141.0" width="1" height="6.0"/>
<rect x="414" y="137.0" width="1" height="6.0"/>
<rect x="416" y="133.0" width="1" height="5.0"/>
<rect x="418" y="129.4" width="1" height="4.0"/>
<rect x="419" y="126.0" width="1" height="7.0"/>
<rect x="420" y="125.2" width="1" height="4.9"/>
<rect x="427" y="132.0" width="1" height="6.0"/>
<rect x="435" y="134.0" width="1" height="5.0"/>
<rect x="437" y="137.0" width="1" height="5.0"/>
<rect x="441" y="159.2" width="1" height="8.9"/>
<rect x="446" y="174.0" width="1" height="7.0"/>
<rect x="454" y="190.0" width="1" height="11.0"/>
<rect x="455" y="176.0" width="1" height="17.8"/>
<rect x="456" y="165.5" width="1" height="12.4"/>
<rect x="457" y="171.1" width="1" height="6.0"/>
<rect x="458" y="172.0" width="1" height="6.0"/>
<rect x="460" y="172.0" width="1" height="4.0"/>
<rect x="463" y="168.0" width="1" height="7.0"/>
<rect x="480" y="201.0" width="1" height="3.0"/>
<rect x="482" y="198.0" width="1" height="8.0"/>
<rect x="487" y="218.0" width="1" height="10.0"/>
<rect x="489" y="208.0" width="1" height="17.0"/>
<rect x="490" y="206.0" width="1" height="6.0"/>
<rect x="494" y="219.4" width="1" height="5.3"/>
<rect x="503" y="243.0" width="1" height="8.7"/>
<rect x="505" y="246.4" width="1" height="5.0"/>
<rect x="510" y="251.7" width="1" height="6.3"/>
<rect x="512" y="250.0" width="1" height="6.0"/>
<rect x="516" y="248.3" width="1" height="4.2"/>
<rect x="518" y="240.0" width="1" height="8.3"/>
<rect x="520" y="236.7" width="1" height="5.0"/>
<rect x="522" y="226.7" width="1" height="11.6"/>
<rect x="523" y="213.3" width="1" height="13.4"/>
<rect x="531" y="225.0" width="1" height="8.3"/>
<rect x="533" y="223.3" width="1" height="5.0"/>
<rect x="535" y="221.7" width="1" height="5.0"/>
<rect x="536" y="223.0" width="1" height="5.2"/>
<rect x="541" y="223.3" width="1" height="5.9"/>
<rect x="546" y="205.0" width="1" height="20.0"/>
<rect x="562" y="245.0" width="1" height="3.0"/>
<rect x="564" y="252.7" width="1" height="8.5"/>
<rect x="566" y="251.0" width="1" height="8.0"/>
<rect x="569" y="245.0" width="1" height="4.6"/>
<rect x="572" y="228.0" width="1" height="10.8"/>
<rect x="573" y="226.1" width="1" height="5.3"/>
<rect x="574" y="220.0" width="1" height="8.0"/>
<rect x="578" y="210.9" width="1" height="7.7"/>
<rect x="582" y="212.4" width="1" height="7.6"/>
<rect x="584" y="211.6" width="1" height="5.4"/>
<rect x="586" y="204.7" width="1" height="7.3"/>
<rect x="593" y="229.2" width="1" height="4.9"/>
<rect x="594" y="228.0" width="1" height="6.0"/>
<rect x="595" y="225.1" width="1" height="5.7"/>
<rect x="596" y="221.5" width="1" height="7.5"/>
<rect x="598" y="210.7" width="1" height="7.7"/>
<rect x="600" y="206.0" width="1" height="4.7"/>
<rect x="601" y="200.0" width="1" height="12.0"/>
<rect x="602" y="194.0" width="1" height="6.0"/>
<rect x="608" y="210.0" width="1" height="8.0"/>
<rect x="610" y="210.0" width="1" height="6.0"/>
<rect x="613" y="212.0" width="1" height="6.0"/>
<rect x="617" y="208.0" width="1" height="12.0"/>
<rect x="619" y="198.0" width="1" height="8.0"/>
<rect x="621" y="189.0" width="1" height="7.0"/>
<rect x="622" y="186.0" width="1" height="6.0"/>
<rect x="624" y="188.0" width="1" height="6.0"/>
<rect x="636" y="196.0" width="1" height="8.0"/>
<rect x="642" y="238.0" width="1" height="8.0"/>
<rect x="648" y="242.0" width="1" height="8.0"/>
<rect x="650" y="240.0" width="1" height="8.0"/>
<rect x="651" y="242.6" width="1" height="4.1"/>
<rect x="652" y="240.0" width="1" height="7.0"/>
<rect x="656" y="238.0" width="1" height="8.0"/>
<rect x="661" y="254.0" width="1" height="6.0"/>
<rect x="663" y="254.0" width="1" height="5.0"/>
<rect x="668" y="269.6" width="1" height="5.8"/>
<rect x="671" y="268.0" width="1" height="8.0"/>
<rect x="674" y="312.0" width="1" height="12.0"/>
<rect x="679" y="317.0" width="1" height="6.0"/>
<rect x="688" y="300.0" width="1" height="32.0"/>
<rect x="690" y="292.0" width="1" height="13.0"/>
<rect x="691" y="294.0" width="1" height="8.0"/>
<rect x="695" y="295.2" width="1" height="8.5"/>
<rect x="700" y="316.0" width="1" height="9.0"/>
<rect x="704" y="304.0" width="1" height="12.0"/>
<rect x="706" y="299.0" width="1" height="6.0"/>
<rect x="709" y="299.1" width="1" height="2.7"/>
<rect x="710" y="294.0" width="1" height="7.0"/>
<rect x="712" y="295.0" width="1" height="6.0"/>
<rect x="714" y="298.5" width="1" height="4.5"/>
<rect x="723" y="315.0" width="1" height="8.0"/>
<rect x="724" y="315.9" width="1" height="5.0"/>
<rect x="727" y="317.0" width="1" height="5.0"/>
<rect x="732" y="313.2" width="1" height="7.0"/>
<rect x="733" y="302.0" width="1" height="16.0"/>
<rect x="734" y="301.0" width="1" height="6.0"/>
<rect x="740" y="298.0" width="1" height="20.1"/>
<rect x="741" y="280.0" width="1" height="38.0"/>
<rect x="748" y="318.1" width="1" height="10.2"/>
<rect x="751" y="322.0" width="1" height="12.0"/>
<rect x="752" y="300.0" width="1" height="30.0"/>
<rect x="754" y="285.0" width="1" height="19.0"/>
<rect x="756" y="300.0" width="1" height="7.5"/>
<rect x="757" y="302.0" width="1" height="8.0"/>
<rect x="763" y="302.0" width="1" height="7.0"/>
<rect x="764" y="303.4" width="1" height="4.9"/>
<rect x="771" y="350.0" width="1" height="16.0"/>
<rect x="772" y="353.0" width="1" height="13.0"/>
<rect x="777" y="359.0" width="1" height="8.0"/>
<rect x="781" y="371.0" width="1" height="22.0"/>
</g>
<g fill="#d9626d">
<rect x="0" y="294.0" width="1" height="12.0"/>
<rect x="1" y="300.0" width="1" height="7.0"/>
<rect x="3" y="258.0" width="1" height="21.2"/>
<rect x="9" y="235.2" width="1" height="4.5"/>
<rect x="12" y="236.0" width="1" height="5.0"/>
<rect x="14" y="235.0" width="1" height="5.0"/>
<rect x="15" y="234.9" width="1" height="3.8"/>
<rect x="22" y="210.0" width="1" height="9.0"/>
<rect x="24" y="217.0" width="1" height="14.0"/>
<rect x="27" y="219.5" width="1" height="8.8"/>
<rect x="28" y="220.0" width="1" height="11.0"/>
<rect x="32" y="221.0" width="1" height="4.0"/>
<rect x="36" y="179.5" width="1" height="12.5"/>
<rect x="37" y="190.4" width="1" height="4.7"/>
<rect x="38" y="192.0" width="1" height="16.0"/>
<rect x="43" y="201.0" width="1" height="5.0"/>
<rect x="49" y="188.0" width="1" height="9.0"/>
<rect x="53" y="191.0" width="1" height="10.0"/>
<rect x="54" y="196.9" width="1" height="6.4"/>
<rect x="55" y="199.0" width="1" height="7.0"/>
<rect x="56" y="201.1" width="1" height="5.5"/>
<rect x="57" y="201.0" width="1" height="10.5"/>
<rect x="59" y="202.6" width="1" height="5.4"/>
<rect x="60" y="202.6" width="1" height="3.6"/>
<rect x="63" y="202.6" width="1" height="5.4"/>
<rect x="65" y="204.0" width="1" height="9.0"/>
<rect x="69" y="193.7" width="1" height="8.9"/>
<rect x="71" y="198.0" width="1" height="8.0"/>
<rect x="75" y="169.6" width="1" height="5.6"/>
<rect x="76" y="165.7" width="1" height="5.3"/>
<rect x="78" y="163.8" width="1" height="2.9"/>
<rect x="81" y="164.0" width="1" height="5.0"/>
<rect x="87" y="150.6" width="1" height="4.8"/>
<rect x="88" y="151.5" width="1" height="8.5"/>
<rect x="91" y="131.0" width="1" height="4.5"/>
<rect x="93" y="129.3" width="1" height="4.4"/>
<rect x="97" y="132.0" width="1" height="3.5"/>
<rect x="100" y="110.7" width="1" height="7.1"/>
<rect x="101" y="116.0" width="1" height="9.0"/>
<rect x="103" y="117.8" width="1" height="12.2"/>
<rect x="104" y="119.1" width="1" height="3.8"/>
<rect x="108" y="112.0" width="1" height="5.8"/>
<rect x="114" y="115.0" width="1" height="7.0"/>
<rect x="116" y="120.0" width="1" height="6.6"/>
<rect x="121" y="97.0" width="1" height="9.0"/>
<rect x="123" y="100.8" width="1" height="7.2"/>
<rect x="130" y="85.0" width="1" height="10.5"/>
<rect x="133" y="95.5" width="1" height="7.1"/>
<rect x="138" y="76.0" width="1" height="16.0"/>
<rect x="139" y="92.0" width="1" height="19.5"/>
<rect x="141" y="111.5" width="1" height="10.5"/>
<rect x="143" y="120.4" width="1" height="8.6"/>
<rect x="151" y="109.7" width="1" height="7.1"/>
<rect x="155" y="100.8" width="1" height="28.2"/>
<rect x="161" y="113.0" width="1" height="5.6"/>
<rect x="164" y="108.5" width="1" height="2.8"/>
<rect x="174" y="57.0" width="1" height="6.0"/>
<rect x="176" y="57.0" width="1" height="7.0"/>
<rect x="180" y="59.0" width="1" height="5.0"/>
<rect x="182" y="61.0" width="1" height="4.0"/>
<rect x="183" y="62.0" width="1" height="5.0"/>
<rect x="185" y="67.0" width="1" height="10.0"/>
<rect x="186" y="77.0" width="1" height="18.0"/>
<rect x="188" y="91.0" width="1" height="18.0"/>
<rect x="189" y="90.0" width="1" height="11.0"/>
<rect x="196" y="95.0" width="1" height="6.0"/>
<rect x="208" y="67.0" width="1" height="6.0"/>
<rect x="210" y="66.0" width="1" height="5.0"/>
<rect x="212" y="67.0" width="1" height="6.0"/>
<rect x="214" y="68.0" width="1" height="9.0"/>
<rect x="219" y="60.9" width="1" height="4.7"/>
<rect x="227" y="57.0" width="1" height="4.0"/>
<rect x="229" y="60.0" width="1" height="6.0"/>
<rect x="242" y="45.0" width="1" height="18.0"/>
<rect x="244" y="62.0" width="1" height="6.0"/>
<rect x="246" y="63.0" width="1" height="5.0"/>
<rect x="249" y="68.0" width="1" height="11.0"/>
<rect x="255" y="58.2" width="1" height="7.9"/>
<rect x="259" y="55.0" width="1" height="10.0"/>
<rect x="261" y="62.0" width="1" height="9.0"/>
<rect x="264" y="66.0" width="1" height="7.0"/>
<rect x="267" y="62.0" width="1" height="12.0"/>
<rect x="279" y="44.0" width="1" height="5.0"/>
<rect x="281" y="48.0" width="1" height="10.0"/>
<rect x="284" y="56.0" width="1" height="10.0"/>
<rect x="285" y="61.2" width="1" height="11.6"/>
<rect x="286" y="66.0" width="1" height="16.0"/>
<rect x="287" y="72.2" width="1" height="9.8"/>
<rect x="288" y="78.0" width="1" height="12.0"/>
<rect x="290" y="80.0" width="1" height="12.0"/>
<rect x="291" y="82.5" width="1" height="8.3"/>
<rect x="299" y="82.0" width="1" height="6.0"/>
<rect x="300" y="83.8" width="1" height="4.7"/>
<rect x="301" y="84.0" width="1" height="6.0"/>
<rect x="303" y="88.0" width="1" height="8.0"/>
<rect x="304" y="90.7" width="1" height="6.0"/>
<rect x="305" y="90.0" width="1" height="8.0"/>
<rect x="307" y="92.0" width="1" height="8.0"/>
<rect x="309" y="94.0" width="1" height="10.0"/>
<rect x="313" y="92.0" width="1" height="6.0"/>
<rect x="319" y="92.0" width="1" height="10.0"/>
<rect x="321" y="96.0" width="1" height="8.0"/>
<rect x="323" y="100.0" width="1" height="12.0"/>
<rect x="325" y="108.0" width="1" height="10.0"/>
<rect x="327" y="110.0" width="1" height="8.0"/>
<rect x="329" y="112.0" width="1" height="8.0"/>
<rect x="330" y="113.8" width="1" height="2.6"/>
<rect x="334" y="114.5" width="1" height="8.7"/>
<rect x="338" y="109.1" width="1" height="7.9"/>
<rect x="339" y="110.0" width="1" height="13.0"/>
<rect x="340" y="117.7" width="1" height="5.6"/>
<rect x="341" y="120.0" width="1" height="10.0"/>
<rect x="343" y="125.0" width="1" height="10.0"/>
<rect x="347" y="128.0" width="1" height="7.0"/>
<rect x="349" y="132.0" width="1" height="8.0"/>
<rect x="353" y="135.0" width="1" height="10.0"/>
<rect x="355" y="134.8" width="1" height="6.2"/>
<rect x="357" y="135.0" width="1" height="20.0"/>
<rect x="359" y="149.0" width="1" height="6.0"/>
<rect x="363" y="152.0" width="1" height="5.0"/>
<rect x="365" y="153.0" width="1" height="4.0"/>
<rect x="369" y="153.0" width="1" height="12.0"/>
<rect x="371" y="165.0" width="1" height="15.0"/>
<rect x="372" y="175.0" width="1" height="9.0"/>
<rect x="379" y="173.0" width="1" height="4.0"/>
<rect x="385" y="170.0" width="1" height="6.0"/>
<rect x="387" y="165.0" width="1" height="12.0"/>
<rect x="388" y="172.0" width="1" height="6.0"/>
<rect x="391" y="150.6" width="1" height="8.9"/>
<rect x="392" y="150.0" width="1" height="6.0"/>
<rect x="396" y="153.0" width="1" height="5.0"/>
<rect x="397" y="153.2" width="1" height="3.2"/>
<rect x="398" y="153.0" width="1" height="4.0"/>
<rect x="400" y="154.0" width="1" height="7.0"/>
<rect x="402" y="155.0" width="1" height="7.0"/>
<rect x="406" y="146.0" width="1" height="9.0"/>
<rect x="421" y="121.0" width="1" height="7.0"/>
<rect x="422" y="124.0" width="1" height="4.8"/>
<rect x="423" y="123.4" width="1" height="7.7"/>
<rect x="424" y="124.0" width="1" height="11.0"/>
<rect x="426" y="131.0" width="1" height="6.0"/>
<rect x="429" y="133.0" width="1" height="6.0"/>
<rect x="431" y="134.0" width="1" height="6.0"/>
<rect x="433" y="135.0" width="1" height="5.0"/>
<rect x="438" y="140.0" width="1" height="16.0"/>
<rect x="440" y="154.0" width="1" height="12.0"/>
<rect x="442" y="166.0" width="1" height="12.0"/>
<rect x="444" y="173.0" width="1" height="7.0"/>
<rect x="448" y="178.0" width="1" height="8.0"/>
<rect x="449" y="184.0" width="1" height="12.0"/>
<rect x="451" y="194.0" width="1" height="10.0"/>
<rect x="452" y="195.0" width="1" height="9.0"/>
<rect x="461" y="172.8" width="1" height="3.5"/>
<rect x="462" y="173.0" width="1" height="4.0"/>
<rect x="465" y="172.0" width="1" height="8.0"/>
<rect x="467" y="175.0" width="1" height="7.0"/>
<rect x="469" y="178.0" width="1" height="8.0"/>
<rect x="471" y="182.3" width="1" height="6.3"/>
<rect x="472" y="182.0" width="1" height="12.0"/>
<rect x="474" y="190.0" width="1" height="12.0"/>
<rect x="476" y="199.0" width="1" height="4.0"/>
<rect x="478" y="200.0" width="1" height="4.0"/>
<rect x="481" y="201.0" width="1" height="3.0"/>
<rect x="484" y="204.0" width="1" height="18.0"/>
<rect x="492" y="208.0" width="1" height="18.0"/>
<rect x="496" y="224.0" width="1" height="5.0"/>
<rect x="498" y="230.0" width="1" height="10.0"/>
<rect x="500" y="234.1" width="1" height="5.4"/>
<rect x="501" y="234.0" width="1" height="6.0"/>
<rect x="504" y="244.0" width="1" height="6.0"/>
<rect x="506" y="246.7" width="1" height="12.3"/>
<rect x="508" y="253.0" width="1" height="7.0"/>
<rect x="514" y="250.8" width="1" height="5.9"/>
<rect x="521" y="233.8" width="1" height="4.6"/>
<rect x="524" y="215.0" width="1" height="6.7"/>
<rect x="527" y="218.3" width="1" height="10.0"/>
<rect x="529" y="223.3" width="1" height="7.5"/>
<rect x="532" y="225.7" width="1" height="3.3"/>
<rect x="537" y="220.0" width="1" height="10.0"/>
<rect x="539" y="220.8" width="1" height="7.5"/>
<rect x="543" y="224.0" width="1" height="6.0"/>
<rect x="544" y="225.0" width="1" height="5.0"/>
<rect x="548" y="208.3" width="1" height="10.0"/>
<rect x="550" y="209.0" width="1" height="14.0"/>
<rect x="552" y="220.0" width="1" height="8.0"/>
<rect x="554" y="224.8" width="1" height="6.2"/>
<rect x="556" y="231.0" width="1" height="7.8"/>
<rect x="558" y="235.7" width="1" height="7.7"/>
<rect x="559" y="239.6" width="1" height="6.1"/>
<rect x="560" y="241.9" width="1" height="6.1"/>
<rect x="563" y="248.0" width="1" height="12.5"/>
<rect x="565" y="253.8" width="1" height="6.6"/>
<rect x="568" y="251.0" width="1" height="6.0"/>
<rect x="570" y="240.0" width="1" height="6.5"/>
<rect x="576" y="218.6" width="1" height="3.1"/>
<rect x="580" y="210.9" width="1" height="6.1"/>
<rect x="581" y="213.0" width="1" height="4.7"/>
<rect x="587" y="204.7" width="1" height="13.9"/>
<rect x="588" y="218.6" width="1" height="18.6"/>
<rect x="590" y="231.0" width="1" height="6.2"/>
<rect x="597" y="216.7" width="1" height="5.9"/>
<rect x="604" y="198.0" width="1" height="14.0"/>
<rect x="606" y="208.0" width="1" height="12.0"/>
<rect x="611" y="211.0" width="1" height="7.0"/>
<rect x="615" y="214.0" width="1" height="10.0"/>
<rect x="626" y="190.0" width="1" height="10.0"/>
<rect x="628" y="195.0" width="1" height="6.0"/>
<rect x="630" y="196.0" width="1" height="6.0"/>
<rect x="632" y="200.0" width="1" height="6.0"/>
<rect x="634" y="202.0" width="1" height="6.0"/>
<rect x="635" y="200.0" width="1" height="6.0"/>
<rect x="638" y="196.0" width="1" height="34.0"/>
<rect x="639" y="225.0" width="1" height="19.0"/>
<rect x="640" y="236.0" width="1" height="8.0"/>
<rect x="641" y="238.1" width="1" height="5.6"/>
<rect x="644" y="240.0" width="1" height="6.0"/>
<rect x="646" y="242.0" width="1" height="10.0"/>
<rect x="649" y="243.4" width="1" height="2.9"/>
<rect x="654" y="239.0" width="1" height="7.0"/>
<rect x="655" y="239.0" width="1" height="6.6"/>
<rect x="657" y="244.0" width="1" height="10.0"/>
<rect x="658" y="250.1" width="1" height="6.0"/>
<rect x="659" y="254.0" width="1" height="8.0"/>
<rect x="665" y="260.0" width="1" height="12.0"/>
<rect x="667" y="266.0" width="1" height="10.0"/>
<rect x="669" y="268.0" width="1" height="10.0"/>
<rect x="672" y="274.0" width="1" height="43.0"/>
<rect x="675" y="313.0" width="1" height="8.1"/>
<rect x="677" y="316.0" width="1" height="7.0"/>
<rect x="681" y="316.0" width="1" height="8.0"/>
<rect x="683" y="318.0" width="1" height="7.0"/>
<rect x="685" y="321.0" width="1" height="9.0"/>
<rect x="687" y="325.0" width="1" height="9.0"/>
<rect x="693" y="295.0" width="1" height="8.0"/>
<rect x="694" y="292.0" width="1" height="9.0"/>
<rect x="696" y="300.0" width="1" height="14.0"/>
<rect x="698" y="310.0" width="1" height="12.0"/>
<rect x="701" y="317.5" width="1" height="5.4"/>
<rect x="702" y="318.0" width="1" height="6.0"/>
<rect x="703" y="313.8" width="1" height="5.7"/>
<rect x="708" y="298.0" width="1" height="6.0"/>
<rect x="715" y="300.0" width="1" height="8.0"/>
<rect x="717" y="305.0" width="1" height="9.0"/>
<rect x="719" y="310.0" width="1" height="8.0"/>
<rect x="721" y="314.0" width="1" height="8.0"/>
<rect x="725" y="316.0" width="1" height="7.0"/>
<rect x="729" y="318.0" width="1" height="7.0"/>
<rect x="731" y="318.0" width="1" height="6.0"/>
<rect x="735" y="302.3" width="1" height="4.8"/>
<rect x="736" y="304.0" width="1" height="8.0"/>
<rect x="737" y="307.7" width="1" height="4.1"/>
<rect x="739" y="310.0" width="1" height="11.0"/>
<rect x="743" y="290.0" width="1" height="18.0"/>
<rect x="744" y="300.0" width="1" height="14.0"/>
<rect x="746" y="310.0" width="1" height="15.0"/>
<rect x="749" y="320.0" width="1" height="12.0"/>
<rect x="755" y="290.0" width="1" height="16.0"/>
<rect x="759" y="303.0" width="1" height="6.0"/>
<rect x="761" y="303.0" width="1" height="7.0"/>
<rect x="765" y="304.0" width="1" height="7.0"/>
<rect x="766" y="310.0" width="1" height="18.0"/>
<rect x="767" y="318.2" width="1" height="14.4"/>
<rect x="768" y="326.0" width="1" height="19.0"/>
<rect x="770" y="340.0" width="1" height="24.0"/>
<rect x="774" y="354.0" width="1" height="14.0"/>
<rect x="775" y="358.0" width="1" height="8.0"/>
<rect x="776" y="356.0" width="1" height="11.0"/>
<rect x="778" y="360.0" width="1" height="8.0"/>
<rect x="780" y="364.0" width="1" height="29.0"/>
<rect x="783" y="371.0" width="1" height="9.5"/>
</g>
<g fill="#b4b4b4">
<rect x="33" y="202.1" width="1" height="13.0"/>
<rect x="50" y="190.5" width="1" height="4.1"/>
<rect x="64" y="205.6" width="1" height="3.6"/>
<rect x="73" y="183.1" width="1" height="13.7"/>
<rect x="80" y="162.7" width="1" height="5.2"/>
<rect x="113" y="115.2" width="1" height="4.2"/>
<rect x="124" y="99.4" width="1" height="4.6"/>
<rect x="142" y="116.8" width="1" height="7.8"/>
<rect x="177" y="58.1" width="1" height="5.1"/>
<rect x="184" y="66.4" width="1" height="3.6"/>
<rect x="192" y="92.3" width="1" height="6.7"/>
<rect x="198" y="92.9" width="1" height="3.0"/>
<rect x="218" y="63.2" width="1" height="3.6"/>
<rect x="230" y="61.9" width="1" height="3.4"/>
<rect x="235" y="54.8" width="1" height="9.1"/>
<rect x="237" y="50.5" width="1" height="7.2"/>
<rect x="241" y="47.0" width="1" height="12.5"/>
<rect x="263" y="65.8" width="1" height="6.2"/>
<rect x="293" y="83.0" width="1" height="3.8"/>
<rect x="295" y="81.9" width="1" height="6.6"/>
<rect x="297" y="82.7" width="1" height="6.8"/>
<rect x="310" y="95.1" width="1" height="7.2"/>
<rect x="314" y="93.2" width="1" height="3.5"/>
<rect x="328" y="111.4" width="1" height="7.5"/>
<rect x="333" y="114.0" width="1" height="5.0"/>
<rect x="346" y="130.9" width="1" height="3.1"/>
<rect x="350" y="135.6" width="1" height="4.3"/>
<rect x="375" y="171.9" width="1" height="6.0"/>
<rect x="403" y="150.1" width="1" height="5.5"/>
<rect x="425" y="130.7" width="1" height="4.3"/>
<rect x="477" y="200.9" width="1" height="2.3"/>
<rect x="479" y="201.9" width="1" height="1.7"/>
<rect x="486" y="212.9" width="1" height="9.4"/>
<rect x="488" y="213.1" width="1" height="13.4"/>
<rect x="502" y="238.9" width="1" height="5.5"/>
<rect x="525" y="216.0" width="1" height="7.0"/>
<rect x="526" y="219.3" width="1" height="3.7"/>
<rect x="528" y="222.5" width="1" height="6.8"/>
<rect x="567" y="252.6" width="1" height="3.2"/>
<rect x="591" y="232.1" width="1" height="4.4"/>
<rect x="660" y="255.2" width="1" height="5.5"/>
<rect x="680" y="317.5" width="1" height="4.9"/>
<rect x="705" y="302.6" width="1" height="8.3"/>
<rect x="716" y="303.2" width="1" height="7.1"/>
<rect x="718" y="309.8" width="1" height="5.3"/>
<rect x="742" y="292.9" width="1" height="11.5"/>
<rect x="753" y="296.8" width="1" height="14.8"/>
</g>
<line x1="221.2" y1="17.2" x2="674.4" y2="419.6" stroke="#c4c4c4" stroke-width="0.7"/>
<line x1="237.3" y1="31.5" x2="865.5" y2="31.5" stroke="#6f6f6f" stroke-width="1"/>
<line x1="340.2" y1="122.9" x2="865.5" y2="122.9" stroke="#cbcbcb" stroke-width="0.9" stroke-dasharray="2.3 2.35"/>
<line x1="372.2" y1="151.3" x2="865.5" y2="151.3" stroke="#cbcbcb" stroke-width="0.9" stroke-dasharray="2.3 2.35"/>
<line x1="403.8" y1="179.3" x2="865.5" y2="179.3" stroke="#cbcbcb" stroke-width="0.9" stroke-dasharray="2.3 2.35"/>
<line x1="507.6" y1="271.5" x2="865.5" y2="271.5" stroke="#6f6f6f" stroke-width="1"/>
<line x1="610.8" y1="363.1" x2="865.5" y2="363.1" stroke="#cbcbcb" stroke-width="0.9" stroke-dasharray="2.3 2.35"/>
<line x1="674.4" y1="419.6" x2="865.5" y2="419.6" stroke="#cbcbcb" stroke-width="0.9" stroke-dasharray="2.3 2.35"/>
<line x1="0" y1="377.5" x2="889" y2="377.5" stroke="#bdbde8" stroke-width="1" stroke-dasharray="2.4 2.4"/>
<rect x="-2" y="202.1" width="823.3" height="6.3" rx="0.8" fill="none" stroke="#7a7a7a" stroke-width="1"/>
<rect x="-2" y="265.5" width="823.3" height="6.1" rx="0.8" fill="none" stroke="#7a7a7a" stroke-width="1"/>
<rect x="-2" y="306.6" width="823.3" height="5.2" rx="0.8" fill="none" stroke="#7a7a7a" stroke-width="1"/>
<g stroke="#555" stroke-width="0.9" stroke-linecap="round"><line x1="135.8" y1="68.3" x2="236.4" y2="31.1"/><line x1="154.8" y1="135.4" x2="244" y2="68.8"/><line x1="223.3" y1="26.8" x2="813.2" y2="251"/><line x1="275" y1="180.3" x2="807.3" y2="389"/><line x1="677.8" y1="299.3" x2="743.3" y2="252.7"/><line x1="688.9" y1="338.9" x2="761.1" y2="291.1"/></g>
<g font-size="5.4" fill="#333">
<text x="868.1" y="33.2" textLength="7" lengthAdjust="spacingAndGlyphs">0%</text>
<text x="868.1" y="124.6" textLength="13.9" lengthAdjust="spacingAndGlyphs">38.2%</text>
<text x="868.1" y="153.0" textLength="9.7" lengthAdjust="spacingAndGlyphs">50%</text>
<text x="868.1" y="181.0" textLength="14" lengthAdjust="spacingAndGlyphs">61.8%</text>
<text x="868.1" y="273.2" textLength="12" lengthAdjust="spacingAndGlyphs">100%</text>
<text x="868.1" y="364.8" textLength="16.2" lengthAdjust="spacingAndGlyphs">138.2%</text>
<text x="868.1" y="421.3" textLength="16.2" lengthAdjust="spacingAndGlyphs">161.8%</text>
</g>
<line x1="0" y1="442" x2="890.9" y2="442" stroke="#d2d2d2" stroke-width="1.6"/>
<line x1="890" y1="17.7" x2="890" y2="442.8" stroke="#d3d3d3" stroke-width="1.8"/>
<g font-size="5.3" fill="#555">
<line x1="890.5" y1="30.4" x2="892" y2="30.4" stroke="#999" stroke-width="0.8"/>
<text x="893.1" y="32.3" textLength="10.6" lengthAdjust="spacingAndGlyphs">1825</text>
<line x1="890.5" y1="78.4" x2="892" y2="78.4" stroke="#999" stroke-width="0.8"/>
<text x="893.1" y="80.3" textLength="10.6" lengthAdjust="spacingAndGlyphs">1800</text>
<line x1="890.5" y1="126.4" x2="892" y2="126.4" stroke="#999" stroke-width="0.8"/>
<text x="893.1" y="128.3" textLength="10.6" lengthAdjust="spacingAndGlyphs">1775</text>
<line x1="890.5" y1="174.3" x2="892" y2="174.3" stroke="#999" stroke-width="0.8"/>
<text x="893.1" y="176.2" textLength="10.6" lengthAdjust="spacingAndGlyphs">1750</text>
<line x1="890.5" y1="222.2" x2="892" y2="222.2" stroke="#999" stroke-width="0.8"/>
<text x="893.1" y="224.1" textLength="10.6" lengthAdjust="spacingAndGlyphs">1725</text>
<line x1="890.5" y1="270.1" x2="892" y2="270.1" stroke="#999" stroke-width="0.8"/>
<text x="893.1" y="272.0" textLength="10.6" lengthAdjust="spacingAndGlyphs">1700</text>
<line x1="890.5" y1="318.0" x2="892" y2="318.0" stroke="#999" stroke-width="0.8"/>
<text x="893.1" y="319.9" textLength="10.6" lengthAdjust="spacingAndGlyphs">1675</text>
<line x1="890.5" y1="366.0" x2="892" y2="366.0" stroke="#999" stroke-width="0.8"/>
<text x="893.1" y="367.9" textLength="10.6" lengthAdjust="spacingAndGlyphs">1650</text>
<line x1="890.5" y1="413.8" x2="892" y2="413.8" stroke="#999" stroke-width="0.8"/>
<text x="893.1" y="415.7" textLength="10.6" lengthAdjust="spacingAndGlyphs">1625</text>
</g>
<g font-size="6.4" fill="#666">
<line x1="77.6" y1="442" x2="77.6" y2="444.2" stroke="#aaa" stroke-width="0.8"/>
<text x="74.4" y="449.7" textLength="6.3" lengthAdjust="spacingAndGlyphs">28</text>
<line x1="110.7" y1="442" x2="110.7" y2="444.2" stroke="#aaa" stroke-width="0.8"/>
<text x="105.5" y="449.7" textLength="10.3" lengthAdjust="spacingAndGlyphs">Aug</text>
<line x1="193.5" y1="442" x2="193.5" y2="444.2" stroke="#aaa" stroke-width="0.8"/>
<text x="191.9" y="449.7" textLength="3.1" lengthAdjust="spacingAndGlyphs">7</text>
<line x1="277.4" y1="442" x2="277.4" y2="444.2" stroke="#aaa" stroke-width="0.8"/>
<text x="274.3" y="449.7" textLength="6.2" lengthAdjust="spacingAndGlyphs">14</text>
<line x1="360.5" y1="442" x2="360.5" y2="444.2" stroke="#aaa" stroke-width="0.8"/>
<text x="357.4" y="449.7" textLength="6.2" lengthAdjust="spacingAndGlyphs">21</text>
<line x1="445" y1="442" x2="445" y2="444.2" stroke="#aaa" stroke-width="0.8"/>
<text x="441.9" y="449.7" textLength="6.3" lengthAdjust="spacingAndGlyphs">28</text>
<line x1="495.6" y1="442" x2="495.6" y2="444.2" stroke="#aaa" stroke-width="0.8"/>
<text x="489.5" y="449.7" textLength="12.3" lengthAdjust="spacingAndGlyphs">Sept</text>
<line x1="561.4" y1="442" x2="561.4" y2="444.2" stroke="#aaa" stroke-width="0.8"/>
<text x="559.9" y="449.7" textLength="3.1" lengthAdjust="spacingAndGlyphs">7</text>
<line x1="646.1" y1="442" x2="646.1" y2="444.2" stroke="#aaa" stroke-width="0.8"/>
<text x="643.0" y="449.7" textLength="6.2" lengthAdjust="spacingAndGlyphs">14</text>
<line x1="728.9" y1="442" x2="728.9" y2="444.2" stroke="#aaa" stroke-width="0.8"/>
<text x="725.8" y="449.7" textLength="6.2" lengthAdjust="spacingAndGlyphs">21</text>
<line x1="811.3" y1="442" x2="811.3" y2="444.2" stroke="#aaa" stroke-width="0.8"/>
<text x="808.1" y="449.7" textLength="6.3" lengthAdjust="spacingAndGlyphs">28</text>
<line x1="860.6" y1="442" x2="860.6" y2="444.2" stroke="#aaa" stroke-width="0.8"/>
<text x="855.8" y="449.7" textLength="9.7" lengthAdjust="spacingAndGlyphs">Oct</text>
<rect x="0" y="444.9" width="0.9" height="4.3" fill="#999"/>
</g>
<path d="M890,377.9 L893.5,374.4 L913.4,374.4 L913.4,381.4 L893.5,381.4 Z" fill="#5b5aa6"/>
<text x="897.1" y="379.8" font-size="5.2" font-weight="bold" fill="#fff" textLength="14.8" lengthAdjust="spacingAndGlyphs">1643.6</text>
<g fill="none" stroke="#f0145a" stroke-width="2"><circle cx="506.9" cy="267.8" r="4.9" fill="#fff" fill-opacity="0.85"/><circle cx="684.4" cy="342.9" r="4.9" fill="#fff" fill-opacity="0.8"/><ellipse cx="781.1" cy="385.2" rx="10.0" ry="19.2"/></g>
<g fill="#f0145a"><path d="M502.1,113.4 L639.9,170.2 L639.3,171.6 L646.6,171.0 L641.8,165.5 L641.2,166.9 L502.5,112.4 Z"/><path d="M800.3,351.7 L808.5,329.8 L810.3,330.4 L808.9,323.6 L803.8,328.3 L805.6,328.9 L799.5,351.5 Z"/><path d="M793.9,369.6 L798.8,361.4 L796.8,360.4 L793.3,369.4 Z"/><path d="M799.0,391.8 L813.8,415.4 L812.3,416.4 L818.8,419.8 L817.9,412.5 L816.4,413.5 L799.6,391.4 Z"/></g>
<text class="dv" x="6.9" y="30.7" font-size="5.6" font-weight="bold" font-family="DejaVu Sans, sans-serif" fill="#333" textLength="46.1" lengthAdjust="spacingAndGlyphs">GOLD, DAILY DEC</text>
<g font-size="5.3">
<text x="4.0" y="428.8" fill="#aaa" textLength="17.3" lengthAdjust="spacingAndGlyphs">TODAY:</text>
<text x="29.1" y="428.8" fill="#9a9a9a" textLength="4.7" lengthAdjust="spacingAndGlyphs">H:</text>
<text x="35.5" y="428.8" fill="#2a2a2a" textLength="15.3" lengthAdjust="spacingAndGlyphs">1653.5</text>
<text x="55.1" y="428.8" fill="#9a9a9a" textLength="3.4" lengthAdjust="spacingAndGlyphs">L:</text>
<text x="60.3" y="428.8" fill="#2a2a2a" textLength="15.6" lengthAdjust="spacingAndGlyphs">1634.0</text>
<text x="82" y="428.8" fill="#cc3333" textLength="8.8" lengthAdjust="spacingAndGlyphs">-4.5</text>
<text x="102.5" y="428.8" fill="#cc3333" textLength="12.7" lengthAdjust="spacingAndGlyphs">-0.3%</text>
<text x="4.0" y="435.7" fill="#aaa" textLength="17" lengthAdjust="spacingAndGlyphs">CHART:</text>
<text x="29.1" y="435.7" fill="#9a9a9a" textLength="4.7" lengthAdjust="spacingAndGlyphs">H:</text>
<text x="35.5" y="435.7" fill="#2a2a2a" textLength="15.3" lengthAdjust="spacingAndGlyphs">1824.7</text>
<text x="55.1" y="435.7" fill="#9a9a9a" textLength="3.4" lengthAdjust="spacingAndGlyphs">L:</text>
<text x="60.3" y="435.7" fill="#2a2a2a" textLength="15.6" lengthAdjust="spacingAndGlyphs">1634.0</text>
<text x="82" y="435.7" fill="#cc3333" textLength="12" lengthAdjust="spacingAndGlyphs">-46.4</text>
<text x="102.5" y="435.7" fill="#cc3333" textLength="12.7" lengthAdjust="spacingAndGlyphs">-2.7%</text>
</g>
<rect x="0" y="15.8" width="916" height="1.9" fill="#d7d7d7"/>
<g font-size="6.6" font-weight="bold" fill="#363636">
<text class="dv" x="4.9" y="9.9" textLength="22" lengthAdjust="spacingAndGlyphs">2 hours</text>
<path d="M29.8,6.3 L34.4,6.3 L32.1,8.8 Z" stroke="none"/>
<text class="dv" x="42.6" y="9.9" textLength="27.6" lengthAdjust="spacingAndGlyphs">Technical</text>
<path d="M73.1,6.3 L77.69999999999999,6.3 L75.39999999999999,8.8 Z" stroke="none"/>
<text class="dv" x="85.9" y="9.9" textLength="21.3" lengthAdjust="spacingAndGlyphs">Display</text>
<path d="M110.4,6.3 L115.0,6.3 L112.7,8.8 Z" stroke="none"/>
<text class="dv" x="123.2" y="9.9" textLength="14.7" lengthAdjust="spacingAndGlyphs">More</text>
<path d="M141,6.3 L145.6,6.3 L143.3,8.8 Z" stroke="none"/>
</g>
<g fill="#1e1e1e" stroke="none">
<path d="M154.6,10.3 V4.6 H156.9 L157.6,5.4 H160.3 V7.1" fill="none" stroke="#333" stroke-width="0.9"/>
<path d="M156.2,7.1 H161.4 L159.7,10.3 H154.7 Z"/>
<path d="M169.7,3.8 H175.5 L176.2,4.5 V10.8 H169 V4.5 Z M171.1,3.9 V5.7 H174.3 V3.9 Z M170.1,7.1 V9.8 H175.3 V7.1 Z" fill-rule="evenodd"/>
<rect x="183.1" y="6.65" width="6.7" height="1.55" rx="0.5"/>
<rect x="196.9" y="6.65" width="6.1" height="1.55" rx="0.5"/><rect x="199" y="4.3" width="1.65" height="6.4" rx="0.5"/>
</g>
<g stroke="#444" fill="none" stroke-width="0.9">
<path d="M765.4,429.8 L769.2,433.4" stroke-width="1.7"/><path d="M770.6,434.7 L766.9,434.2 L770.1,430.9 Z" fill="#444" stroke="none"/>
<path d="M776.6,435 C776.3,432.6 777.8,432.4 779.5,432.5 C781.5,432.6 782.9,432.1 782.7,429" stroke-width="1"/>
<rect x="786.1" y="427.4" width="9.5" height="1.1" fill="#999" stroke="none"/>
<rect x="786.1" y="436.2" width="9.5" height="0.9" fill="#999" stroke="none"/>
<path d="M786.1,429.9 h9.5 M786.1,434.4 h9.5" stroke="#555" stroke-width="0.9" stroke-dasharray="2.3 0.9"/>
<path d="M786.1,432.1 h9.5" stroke="#bbb" stroke-width="0.6" stroke-dasharray="2.3 0.9"/>
<path d="M786.4,427.4 v9.7 M795.3,427.4 v9.7" stroke="#aaa" stroke-width="0.6"/>
<path d="M797.9,428 v8.6 h9.2" stroke="#c4c4c4" stroke-width="1"/>
<path d="M798.2,436.3 L802.8,428.9 M798.2,436.3 L806.1,432.2" stroke="#444" stroke-width="0.7"/>
<path d="M809,432.2 h9.6" stroke="#777" stroke-width="0.9"/>
<path d="M821.8,428.6 L829.2,435.7" stroke="#333" stroke-width="0.8"/><circle cx="821.8" cy="428.6" r="0.95" fill="#333" stroke="none"/><circle cx="829.2" cy="435.7" r="0.95" fill="#333" stroke="none"/>
<rect x="833.4" y="428.8" width="7.2" height="6.8" stroke="#777" stroke-width="0.8"/>
<path d="M856.7,436 L863.1,429.2" stroke="#555" stroke-width="0.9"/>
<path d="M871.4,428.2 v8.6" stroke="#777" stroke-width="0.9"/>
<path d="M879.4,430.3 l3.7,3.9 M883.1,430.3 l-3.7,3.9" stroke="#777" stroke-width="0.9"/>
</g>
<text x="844.6" y="432.8" font-size="3.8" font-style="italic" fill="#999" textLength="8" lengthAdjust="spacingAndGlyphs">Abc</text><path d="M844.2,434 h8.8" stroke="#aaa" stroke-width="0.7"/>
</svg>
</body></html>
